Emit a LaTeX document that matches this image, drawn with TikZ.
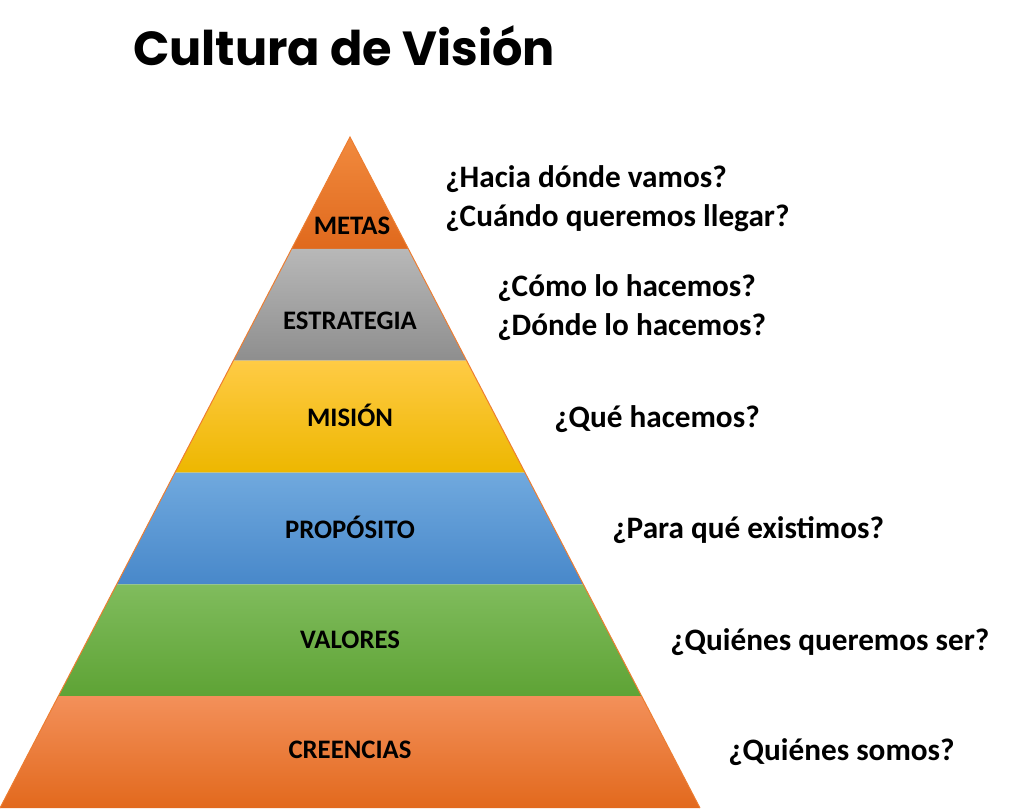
\documentclass[tikz,border=0pt]{standalone}
\usepackage{fontspec}
\setmainfont{Carlito}
\newfontfamily\titlefont{Poppins}
\usetikzlibrary{calc}
\definecolor{metasTop}{HTML}{F18A3E}
\definecolor{metasBot}{HTML}{E0691D}
\definecolor{estrTop}{HTML}{B8B8B8}
\definecolor{estrBot}{HTML}{8E8E8E}
\definecolor{misTop}{HTML}{FFCB45}
\definecolor{misBot}{HTML}{EDB700}
\definecolor{propTop}{HTML}{70A9DE}
\definecolor{propBot}{HTML}{4888CA}
\definecolor{valTop}{HTML}{80BC5D}
\definecolor{valBot}{HTML}{5EA335}
\definecolor{creTop}{HTML}{F3905A}
\definecolor{creBot}{HTML}{E2691D}
\definecolor{edgeorange}{HTML}{ED7D31}

\begin{document}
\begin{tikzpicture}[x=0.025cm, y=-0.025cm,
    tier/.style={font=\bfseries\fontsize{19}{22}\selectfont, anchor=base, inner sep=0pt},
    ask/.style={font=\bfseries\fontsize{22.2}{26}\selectfont, anchor=base west, inner sep=0pt},
    edge/.style={draw=edgeorange, line width=0.7pt}
]
\useasboundingbox (0,0) rectangle (1024,808);

\coordinate (apex) at (350,137);
\coordinate (bl) at (0,808);
\coordinate (br) at (700,808);
\foreach \i in {1,...,5} {
    \coordinate (l\i) at ($(apex)!\i/6!(bl)$);
    \coordinate (r\i) at ($(apex)!\i/6!(br)$);
}

% layers, top to bottom
\shade[top color=metasTop, bottom color=metasBot] (apex) -- (r1) -- (l1) -- cycle;
\shade[top color=estrTop, bottom color=estrBot] (l1) -- (r1) -- (r2) -- (l2) -- cycle;
\shade[top color=misTop, bottom color=misBot] (l2) -- (r2) -- (r3) -- (l3) -- cycle;
\shade[top color=propTop, bottom color=propBot] (l3) -- (r3) -- (r4) -- (l4) -- cycle;
\shade[top color=valTop, bottom color=valBot] (l4) -- (r4) -- (r5) -- (l5) -- cycle;
\shade[top color=creTop, bottom color=creBot] (l5) -- (r5) -- (br) -- (bl) -- cycle;
\draw[edge] (bl) -- (apex) -- (br);

\node[tier] (metas) at (352,234) {METAS};
\node[tier] (estrategia) at (350,329) {ESTRATEGIA};
\node[tier] (mision) at (350,426) {MISIÓN};
\node[tier] (proposito) at (350,538) {PROPÓSITO};
\node[tier] (valores) at (350,648) {VALORES};
\node[tier] (creencias) at (350,758) {CREENCIAS};

\node[ask] (q1a) at (445,187) {¿Hacia dónde vamos?};
\node[ask] (q1b) at (445,226) {¿Cuándo queremos llegar?};
\node[ask] (q2a) at (497,296) {¿Cómo lo hacemos?};
\node[ask] (q2b) at (497,335) {¿Dónde lo hacemos?};
\node[ask] (q3) at (554,427) {¿Qué hacemos?};
\node[ask] (q4) at (612,538) {¿Para qué existimos?};
\node[ask] (q5) at (670,650) {¿Quiénes queremos ser?};
\node[ask] (q6) at (728,760) {¿Quiénes somos?};

\node[font=\titlefont\bfseries\fontsize{34}{40}\selectfont, anchor=base, inner sep=0pt] (titulo) at (344,65) {Cultura de Visión};
\end{tikzpicture}
\end{document}
